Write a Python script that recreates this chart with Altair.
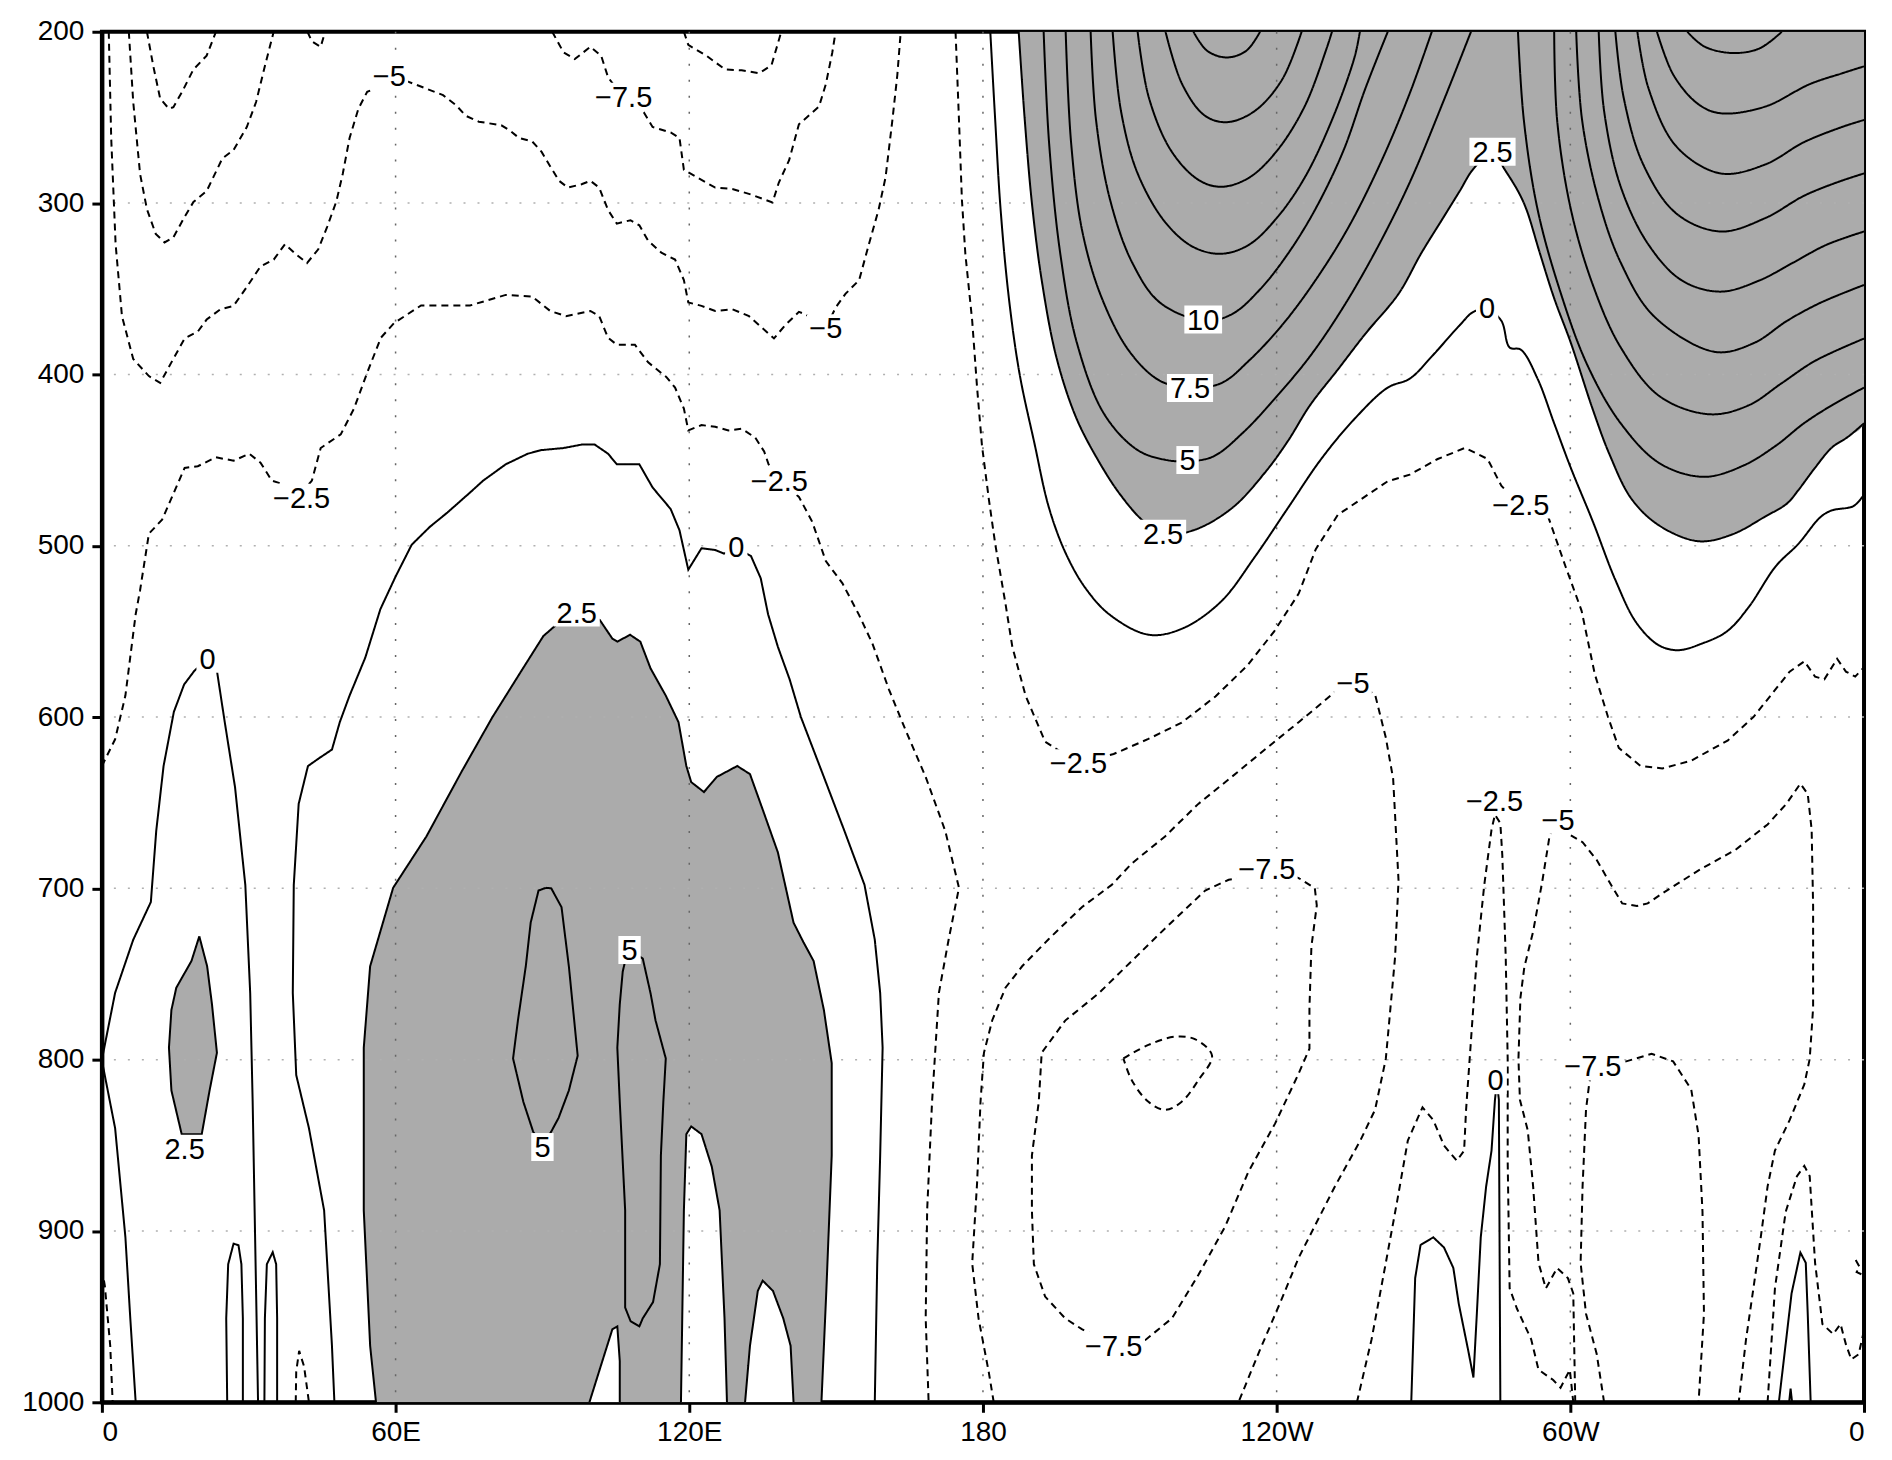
import altair as alt
import pandas as pd

# ---------------- axes ----------------
LON_TICKS = [0, 60, 120, 180, 240, 300, 360]
LON_TICK_LABELS = ["0", "60E", "120E", "180", "120W", "60W", "0"]
P_TICKS = [200, 300, 400, 500, 600, 700, 800, 900, 1000]
GRID_LON = [60, 120, 180, 240, 300]
GRID_P = [300, 400, 500, 600, 700, 800, 900]

# ---------------- contours (lon, pressure) ----------------
M5_A = [(1.4,200),(1.9,262),(2.8,324),(4.1,366),(6.4,391),(9.6,401),(11.9,405),(14.2,393),(16.9,379),(19.6,375),
        (21.4,368),(24.2,362),(26.9,360),(29.6,349),(32.4,337),(35.1,333),(37.4,324),(39.7,330),(41.9,335),(44.2,327),
        (46.0,314),(47.9,299),(49.2,283),(50.6,262),(52.4,245),(54.2,235),(55.1,234),(58.7,226),(62.4,229),(66.1,233),
        (69.7,237),(72.4,243),(74.3,249),(77.0,252.5),(81.6,254.6),(83.4,257.7),(85.2,262),(87.9,264),(89.8,270),
        (91.6,278.6),(93.4,287),(95.2,291),(98.0,289),(99.8,287),(101.6,291),(103.4,304),(105.2,312),(108.0,310),
        (109.8,313),(111.6,322),(114.3,329),(117.1,333),(118.9,345),(119.8,358),(122.5,360),(125.3,363),(128.8,362),
        (132.2,366),(137.3,379),(139.7,371),(142.4,363.5),(143.8,365),(147.9,373),(149.9,361),(151.9,353),(154.7,345),
        (156.7,324),(158.7,303.6),(160.1,285),(161.5,251.5),(162.5,225.4),(163.2,200)]
M75_L = [(5.5,200),(6.4,241),(7.8,283),(9.2,303.6),(11.0,318),(12.8,323),(14.6,320),(16.9,308),(18.7,299.4),
         (21.4,293),(24.6,274),(26.9,269),(29.6,255.6),(31.5,241),(33.3,220),(35.1,200)]
M10_L = [(9.2,200),(10.5,220),(11.9,239),(13.7,245),(14.6,244),(16.4,235),(18.7,222),(21.4,214),(23.3,200)]
M75_V = [(42.0,200),(42.9,205.6),(44.7,208.8),(45.6,200)]
M75_M = [(92.0,200),(94.3,212),(96.6,216),(99.8,208.8),(102.0,214),(103.4,226.5),(106.6,239),(110.7,247),
         (112.5,255.6),(116.2,258.8),(118,262),(118.9,280.6),(121.6,285),(125.3,291),(128.8,291.8),(132.6,295),
         (137,299.7),(138.3,288),(140.4,275),(142.4,254),(146.5,243.7),(147.9,230.6),(149.2,212.4),(149.9,200)]
M10_R = [(118.9,200),(119.8,207.7),(123.5,214),(127.3,222),(130.7,222.5),(134.3,224.2),(136.8,219.5),(138.8,200)]
M25_L = [(0,628.6),(2.7,613),(4.8,587.5),(6.9,540),(7.8,526),(9.6,493),(12.3,484.8),(16.9,454.6),(19.6,453.6),
         (23.3,448.4),(26.9,450.4),(30.1,446.3),(32.4,451.5),(34.7,462),(36.9,464),(40,472),(42.9,462),(44.7,443),
         (48.8,435),(51.5,420),(54.2,399),(57.0,378.6),(59.7,370),(65.2,359.8),(75.2,359.8),(82.5,353.6),(87.9,354.6),
         (91.6,363),(94.8,366),(99.8,363),(101.6,366),(103.4,378.6),(105.2,382.7),(108.9,382.7),(111.6,393),
         (115.3,401.5),(117.1,407.7),(118.9,420),(119.8,432.7),(122.5,429.6),(125.3,430.6),(128.0,432.7),(130.7,431.7),
         (133.5,437),(135.3,445),(136.2,452.5),(138.4,462),(142.4,471.5),(145.1,485.9),(147.9,509),(151.3,522),
         (154.7,540.5),(157.4,557),(160.8,584),(164.2,607.7),(168.3,635),(172.3,666.5),(175.1,699.7),(173,729.7),
         (171,761),(169.6,824.6),(168.6,887.8),(168.3,951),(168.9,1000)]
M25_BL = [(0,922),(0.6,932),(1.7,967),(2.2,1000)]
M25_ARCH = [(39.6,1000),(39.7,982),(40.3,970),(41.3,979),(42.3,1000)]
Z0_L = [(6.9,1000),(5.8,951),(4.8,903.6),(2.7,840),(0.1,802),(0,800),(2.7,761),(6.4,730),(10,708),(11.1,666.5),
        (12.6,628.6),(14.7,597),(16.8,581),(18.9,573),(21.6,566),(23.5,573),(25.1,603),(27.2,641),(29.3,698),
        (30.3,761.4),(30.8,824.5),(31.2,888),(31.6,951),(31.9,1000)]
Z0_LOOP1 = [(25.6,1000),(25.4,951),(25.8,919.4),(26.9,907.4),(27.9,908.3),(28.5,919.4),(28.8,951),(28.8,1000)]
Z0_LOOP2 = [(33.2,1000),(33.3,951),(33.7,919.4),(34.9,912.4),(35.6,919.4),(35.8,951),(35.8,1000)]
Z0_C = [(47.5,1000),(47,967),(45.4,888),(42.3,840),(39.7,809),(39,761),(39.2,698),(40.2,650.7),(42.1,628.6),
        (44.4,624),(47,619),(48.6,603),(50.6,587.5),(53.8,565.4),(56.9,537),(60,518),(63.3,499.4),(67,489),
        (70.6,480.6),(75.2,469),(77.9,462),(82.5,452.5),(87,446.3),(89.8,444.2),(94.3,443),(98,441),(100.7,441),
        (103.4,446.3),(105.2,452.5),(109.8,452.5),(112.5,466),(116.2,478.6),(118,491),(119.8,514),(122.5,501.5),
        (125.3,502.5),(127.1,504.6),(129.6,501.5),(132.6,506),(134.6,519),(136.1,540),(138.1,559),(140.5,578),
        (142.8,600),(147.5,635),(151.7,666.5),(155.8,698),(157.9,730),(159,761),(159.5,793),(159,856),(158.4,919),
        (157.9,1000)]
S25_C = [(56,1000),(54.8,967),(53.5,888),(53.5,793),(54.8,745.5),(59.5,699.7),(66.3,669.7),(73.5,631.8),(79.8,600),
         (86,571.7),(90.2,552.7),(93.3,545),(97,543),(101.7,543.3),(104.3,554.3),(105.3,556),(107.9,552),(110,556),
         (112.1,571.7),(115.2,587.5),(117.8,603),(119.4,628.6),(120.4,638),(123,643.8),(125.6,635),(129.8,628.6),
         (132.4,633.3),(135,654),(138.1,679),(141.3,720),(143.3,731.3),(145.4,742.4),(147.5,771),(149.1,802),
         (149.1,856),(148,935),(147,1000)]
H_A = [(99.6,1000),(102.2,976.3),(104.3,957.3),(105.3,955.7),(105.8,976),(105.8,1000)]
H_B = [(118.3,1000),(118.9,888),(119.4,843.5),(120.4,839),(122.5,843.5),(124.6,862.5),(126.2,888),(127.2,951),(127.7,1000)]
H_C = [(131.4,1000),(132.4,967),(134,935),(135,929),(137.1,935),(139.2,951),(140.7,967),(141.3,1000)]
S25_BLOB = [(19.9,728),(21.5,745.5),(22.5,768),(23.5,796),(22,818),(20.4,843.5),(16.3,843.5),(14.2,818),(13.7,793),
            (14.2,771),(15.2,758),(18.3,742.4),(19.9,728)]
S5_A = [(90.7,699.7),(91.8,700),(93.9,711),(95.4,745.5),(97.2,797.7),(95.4,818),(93.3,834),(91.8,842),(90,851),
        (88.1,842),(86.1,824.6),(84,799.3),(85,777),(86.6,745.5),(87.6,720),(89.2,701.3),(90.7,699.7)]
S5_B = [(107.8,736),(110.5,741),(112.1,761.4),(113.1,777),(115.2,799.3),(114.7,824.6),(114.2,856),(114,919.4),
        (112.6,941.5),(110.5,951),(109.8,955.7),(108,952.6),(106.9,944.7),(106.9,888),(105.8,824.6),(105.3,793),
        (105.8,767.7),(106.4,748.7),(106.9,742.4),(107.8,736)]
M25_C = [(174.4,200),(175.1,251.5),(175.7,298),(176.4,329.6),(177.8,368.7),(178.8,407.7),(179.8,441.6),(181.2,472.8),
         (182.5,498.9),(184.6,533.8),(186,559),(188.7,587.5),(192.7,614.4),(199.5,627),(206.7,621.6),(213.8,612.8),
         (220.6,603.3),(227.5,588),(234,570),(239.5,550),(244.5,528),(248,502),(252.5,482),(262.7,462.4),(267.2,458.5),
         (272.9,449.4),(278.5,442.9),(283.1,449.4),(285.9,465),(289.9,476.7),(295.5,483.3),(299,512),(302.3,538),
         (305,575),(307.7,600),(309.9,618),(314.3,628.5),(318.8,630),(324.7,625.5),(332.2,613.6),(337.4,600),
         (341.1,586.8),(344.8,573.5),(347.8,567.5),(350,576.4),(351.9,578),(354.5,566),(356.3,573.5),(358.2,576.4),
         (360,571)]
M5_C = [(182.2,1000),(181.2,982.6),(179.1,951),(177.8,919),(178.8,872),(179.5,824.6),(180.2,796),(181.9,777),
        (184.6,758),(188,745.5),(193.4,729.7),(200.2,711),(206.3,698),(210.4,685.5),(217.2,669.7),(224,650.7),
        (230.8,635),(237.6,619),(244.5,603),(248.2,594.3),(251.9,585.4),(255.6,580),(260.1,586.8),(262.3,612),
        (263.8,636),(264.9,695.4),(264.2,740),(262.3,799.6),(260.1,829.3),(257.1,847.2),(251.9,874),(248.2,894.8),
        (244.5,915.6),(241,940),(236.5,970),(232.2,1000)]
M75_C = [(240.5,690),(230.2,695),(225.4,701.3),(217.2,723.4),(210.4,742.4),(203.6,761.4),(196.8,777.2),(192,796),
         (191.4,824.6),(190,856),(190,888),(190.4,919.4),(192.7,938.3),(196.8,951),(200.2,957.3),(206.7,966.8),
         (213.2,963.6),(218.6,951),(224,925.7),(229.5,897.3),(234.2,865.6),(239.7,837.2),(244.4,808.7),(246.7,793.6),
         (246.7,770),(247.1,734),(248.2,710),(247.8,700),(244.5,694),(240.5,690)]
M10_C = [(208.7,799.3),(213.8,791.4),(219.3,786.6),(223.4,788.2),(226.8,797.7),(224,812),(220.6,824.6),(217.2,829.3),
         (213.8,824.6),(210.4,812),(208.7,799.3)]
M25_R = [(256.4,1000),(259.4,963.2),(262.3,918.6),(264.6,882.9),(266.8,847.2),(269.8,827.8),(272,835.3),(274.2,850.2),
         (276.8,859),(278.3,853.1),(278.7,829.3),(279.8,784.7),(280.9,740),(282.4,698.4),(283.9,665.7),(284.6,657),
         (285.7,662),(286.1,680.6),(286.8,740),(287.2,799.6),(287.2,859),(287.6,933.5),(289.1,945.4),(292,963.2),
         (293.5,981),(296.5,987),(298,991.5),(299.9,981),(300.6,1000)]
M5_R = [(301,1000),(300.6,936.4),(299.5,927.5),(297.3,921.6),(295,933.5),(293.5,918.6),(292.4,874),(291.3,841.2),
        (289.7,823.4),(289.4,799.6),(289.8,764),(290.6,746),(292.4,725.2),(294.3,695.4),(295.8,668.7),(297.6,660),
        (299.9,668.7),(302.5,673.1),(305.4,683.5),(308.4,698.4),(310.6,708.8),(313.6,710.3),(315.8,708.8),(318.8,702.9),
        (326.2,689.5),(333.7,677.6),(340.3,662.7),(344.1,650.8),(347,638.9),(348.5,644.9),(349.3,665.7),(349.6,710.3),
        (349.6,769.8),(348.9,799.6),(347.8,814.5),(344.8,835.3),(341.8,853.1),(340.3,874),(338.9,903.7),(337.4,933.5),
        (335.9,963.2),(334.4,1000)]
M75_R = [(306.9,1000),(305.4,972),(303.2,948.3),(302.1,918.6),(302.5,874),(303.2,829.3),(303.9,813),(304.6,804),
         (311.4,801),(316.6,796.6),(321,801),(324.7,817.4),(326.2,844.2),(327,888.8),(327.3,948.3),(326.2,1000)]
M25_RE = [(340.3,1000),(341.8,933.5),(344,888.8),(346.3,868),(347.8,862),(348.9,868),(350,918.6),(351.5,954.3),
          (353.7,960.2),(355.2,954.3),(356.3,966.2),(357.4,975),(358.9,972),(360,958)]
M25_SQ = [(358.3,917),(359.1,921),(358.5,924),(360,926)]
Z0_HUMP = [(267.5,1000),(268.3,927.5),(269.4,908.2),(272,903.7),(274.2,909.7),(276.1,921.6),(277.2,942.4),
           (279.1,969.2),(280.2,985.5),(280.9,948.3),(281.7,903.7),(282.8,874),(283.9,853.1),(284.6,823.4),
           (285,813),(285.4,823.4),(285.7,1000)]
Z0_SPIKE = [(342.6,1000),(345.2,936.4),(347,912.6),(348.1,918.6),(348.5,948.3),(349.1,1000)]
Z0_TINY = [(344.7,1000),(345,992),(345.3,1000)]
Z0_TOP = [(181.5,200),(182.5,251.5),(183.6,303.6),(185.3,355.6),(187.5,400),(190.5,440),(193.5,478),(197,505),
          (201,525),(206,540.5),(213.9,552),(220.7,548.4),(228.6,532.7),(235.5,506.7),(242.3,478),(249.1,449.4),
          (255.9,426),(262.7,407.7),(267.2,402.5),(271.7,389.5),(277.4,371.3),(280.2,363.5),(283,362),(285.9,368.7),
          (287.6,384.3),(289.9,385.6),(293.3,402.5),(296.7,428.6),(300.1,454.6),(304.6,485.9),(309.2,520),
          (313.5,545),(318,558),(322,561),(327,557),(332,550),(336.4,536),(342,511.9),(346.6,498.9),(351.1,483.3),
          (353.4,479.4),(357.9,476.8),(360,470)]
S25_TOP = [(187.3,200),(188.5,250),(190,300),(192,345),(195,390),(199,425),(203.5,450),(208,470),(212.8,485.7),
           (217,493),(223,491),(230.9,478),(237.7,457),(242.3,438.9),(246.8,418.1),(252.5,397.2),(258.1,376.4),
           (264.9,353),(269.5,329.5),(274,308.7),(277.4,293),(280.2,280),(284.2,270),(286.5,280),(289.3,293),
           (291,303.5),(293.8,329.5),(296.7,355.6),(300.1,381.6),(304.6,420.6),(308,446.7),(312.5,472.7),
           (318.2,488.3),(326.2,497.4),(333,493.5),(339.8,483),(344.3,475.3),(346.6,467.5),(350,454.5),
           (353.4,442.8),(356.8,436.3),(360,428.5)]
TOP_RIGHT_CORNER = [(360, 200)]
LU5 = [(192.4,200),(193.5,264.5),(195.8,329.6),(199.2,381.7),(204.8,423.3),(211.6,444.2),(217.3,449.9),(221.9,450.7),
       (227,448),(233.2,433.8),(240,412.9),(246.8,389.5),(253.6,360.8),(260.4,327),(267.2,287.9),(274,241.1),(279.7,200)]
LU75 = [(196.9,200),(198,264.5),(200.3,316.6),(204.3,355.6),(210,386.9),(216.2,403.8),(222.4,407.7),(228.7,405.1),
        (234.3,392.1),(241.1,371.3),(247.9,345.2),(254.7,314),(261.5,274.9),(267.2,235.9),(271.7,200)]
LU10 = [(202,200),(203.1,251.5),(206,298.4),(210.5,334.8),(216.2,358.2),(225.3,368.7),(230.9,364.8),(236.6,350.4),
        (242.3,329.6),(247.9,303.6),(253.6,269.7),(258.1,233.3),(262.7,200)]
LU125 = [(206.5,200),(208.2,246.3),(211.6,282.7),(217.3,311.4),(223,325.7),(228.7,329.6),(234.3,324.4),(240,308.8),
         (245.7,285.3),(251.3,251.5),(255.9,215),(257,200)]
LU15 = [(211.6,200),(213.9,238.5),(218.5,269.7),(224.1,286.6),(228.7,290.5),(234.3,285.3),(240,269.7),(245.7,243.7),
        (250.2,209.8),(251.3,200)]
LU175 = [(217.3,200),(220.7,230.6),(225.3,248.9),(229.8,252.8),(235.5,246.3),(241.1,228),(245.1,200)]
LU20 = [(223,200),(225.8,211.1),(229.8,215),(233.8,211.1),(236.6,200)]
RU5 = [(289.3,200),(290.5,251.5),(293.3,303.6),(297.8,350.4),(303.5,394.7),(310.3,428.6),(318.3,452),(327.3,459.8),
       (335.3,453.3),(342,441.6),(347.7,428.6),(353.4,418.1),(360,407.7)]
RU75 = [(296.7,200),(297.3,251.5),(300.1,303.6),(304.6,347.8),(310.3,384.3),(318.3,412.9),(328.5,423.3),(336.4,418.1),
        (343.2,405.1),(350,392.1),(360,379.1)]
RU10 = [(301.2,200),(302.4,251.5),(305.8,298.4),(310.3,334.8),(317.1,366.1),(329.6,386.9),(337.5,381.7),(344.3,368.7),
        (351.1,358.2),(360,347.8)]
RU125 = [(305.8,200),(306.9,246.3),(310.3,290.5),(316,324.4),(322.8,345.2),(330.7,351.7),(338.6,345.2),(345.5,334.8),
         (352.3,324.4),(360,316.6)]
RU15 = [(309.2,200),(310.9,238.5),(314.9,277.5),(321.7,306.2),(330.7,316.6),(339.8,308.8),(347.7,295.8),(354.5,287.9),
        (360,282.7)]
RU175 = [(313.7,200),(316,233.3),(321.7,267.1),(330.7,282.7),(339.8,277.5),(347.7,264.5),(355.7,255.4),(360,251.5)]
RU20 = [(317.7,200),(321.1,225.4),(326.2,242.4),(330.7,247.6),(339.8,243.7),(348.9,230.6),(355.7,224.1),(360,220.2)]
RU225 = [(323.9,200),(327.3,208.5),(333,212.4),(338.6,209.8),(343.2,200)]

# (name, contour value, points, smooth?)
CONTOURS = [
    ("m5_a", -5, M5_A, False), ("m75_l", -7.5, M75_L, False), ("m10_l", -10, M10_L, False),
    ("m75_v", -7.5, M75_V, False), ("m75_m", -7.5, M75_M, False), ("m10_r", -10, M10_R, False),
    ("m25_l", -2.5, M25_L, False), ("m25_bl", -2.5, M25_BL, False), ("m25_arch", -2.5, M25_ARCH, False),
    ("z0_l", 0, Z0_L, False), ("z0_loop1", 0, Z0_LOOP1, False), ("z0_loop2", 0, Z0_LOOP2, False),
    ("z0_c", 0, Z0_C, False), ("s25_c", 2.5, S25_C, False), ("h_a", 2.5, H_A, False), ("h_b", 2.5, H_B, False),
    ("h_c", 2.5, H_C, False), ("s25_blob", 2.5, S25_BLOB, False), ("s5_a", 5, S5_A, False), ("s5_b", 5, S5_B, False),
    ("m25_c", -2.5, M25_C, False), ("m5_c", -5, M5_C, False), ("m75_c", -7.5, M75_C, False),
    ("m10_c", -10, M10_C, True), ("m25_r", -2.5, M25_R, False), ("m5_r", -5, M5_R, False),
    ("m75_r", -7.5, M75_R, False), ("m25_re", -2.5, M25_RE, False), ("m25_sq", -2.5, M25_SQ, False),
    ("z0_hump", 0, Z0_HUMP, False), ("z0_spike", 0, Z0_SPIKE, False), ("z0_tiny", 0, Z0_TINY, False),
    ("z0_top", 0, Z0_TOP, True), ("s25_top", 2.5, S25_TOP, True), ("lu5", 5, LU5, True), ("lu75", 7.5, LU75, True),
    ("lu10", 10, LU10, True), ("lu125", 12.5, LU125, True), ("lu15", 15, LU15, True), ("lu175", 17.5, LU175, True),
    ("lu20", 20, LU20, True), ("ru5", 5, RU5, True), ("ru75", 7.5, RU75, True), ("ru10", 10, RU10, True),
    ("ru125", 12.5, RU125, True), ("ru15", 15, RU15, True), ("ru175", 17.5, RU175, True), ("ru20", 20, RU20, True),
    ("ru225", 22.5, RU225, True),
]

# (name, fill kind, points, smooth?)
SHADED = [("f_top", "shade", S25_TOP + TOP_RIGHT_CORNER, True), ("f_c", "shade", S25_C, False),
          ("f_blob", "shade", S25_BLOB, False), ("f_ha", "clear", H_A, False), ("f_hb", "clear", H_B, False),
          ("f_hc", "clear", H_C, False)]

LABEL_TEXT = ["−5", "−7.5", "−5", "−2.5", "−2.5", "0", "0", "2.5", "2.5", "5", "5", "−2.5", "2.5", "5", "7.5",
              "10", "2.5", "0", "−2.5", "−5", "−7.5", "−7.5", "−2.5", "−5", "0", "−7.5"]
LABEL_LON = [58.7, 106.6, 147.9, 40.8, 138.4, 129.6, 21.6, 97.0, 16.9, 90.0, 107.8, 199.5, 216.8, 221.8, 222.3,
             225.0, 284.1, 283.0, 289.9, 255.6, 238.0, 206.7, 284.5, 297.5, 284.7, 304.6]
LABEL_P = [226, 238, 373, 472, 462, 501, 566, 539, 852, 851, 736, 627, 493, 450, 408,
           368, 270, 361, 476, 580, 689, 967, 649, 660, 812, 804]

# ---------------- tables ----------------
line_rows = []
for name, val, pts, smooth in CONTOURS:
    for i, (lo, pr) in enumerate(pts):
        line_rows.append({"id": name, "style": "dashed" if val < 0 else "solid", "smooth": smooth,
                          "i": i, "lon": lo, "p": pr})
lines_df = pd.DataFrame(line_rows)

fill_rows = []
for name, kind, pts, smooth in SHADED:
    for i, (lo, pr) in enumerate(pts):
        fill_rows.append({"id": name, "kind": kind, "smooth": smooth, "i": i, "lon": lo, "p": pr})
fills_df = pd.DataFrame(fill_rows)

labels_df = pd.DataFrame({"text": LABEL_TEXT, "lon": LABEL_LON, "p": LABEL_P})
vgrid_df = pd.DataFrame({"lon": GRID_LON})
hgrid_df = pd.DataFrame({"p": GRID_P})

# ---------------- encodings ----------------
label_expr = "''"
for v, l in reversed(list(zip(LON_TICKS, LON_TICK_LABELS))):
    label_expr = f"datum.value == {v} ? '{l}' : ({label_expr})"

axis_style = dict(domainColor="black", domainWidth=4, tickColor="black", tickWidth=3, tickSize=10,
                  labelFont="Liberation Sans", labelFontSize=28, labelColor="black", grid=False, title=None)

X = alt.X("lon:Q", scale=alt.Scale(domain=[0, 360], nice=False, zero=False),
          axis=alt.Axis(values=LON_TICKS, labelExpr=label_expr, labelPadding=6, **axis_style))
Y = alt.Y("p:Q", scale=alt.Scale(domain=[200, 1000], nice=False, zero=False, reverse=True),
          axis=alt.Axis(values=P_TICKS, format="d", labelPadding=8, **axis_style))
FILL = alt.Fill("kind:N", scale=alt.Scale(domain=["shade", "clear"], range=["#ababab", "#ffffff"]), legend=None)
DASH = alt.StrokeDash("style:N", scale=alt.Scale(domain=["solid", "dashed"], range=[[1, 0], [7, 5]]), legend=None)

fill_base = alt.Chart(fills_df)
fills_lin = fill_base.transform_filter("!datum.smooth").mark_line(
    strokeOpacity=0, interpolate="linear", clip=True).encode(x=X, y=Y, detail="id:N", order="i:Q", fill=FILL)
fills_smooth = fill_base.transform_filter("datum.smooth").mark_line(
    strokeOpacity=0, interpolate="catmull-rom", clip=True).encode(x=X, y=Y, detail="id:N", order="i:Q", fill=FILL)

vgrid = alt.Chart(vgrid_df).mark_rule(color="#666666", strokeWidth=1.5, strokeDash=[2, 14]).encode(x=X)
hgrid = alt.Chart(hgrid_df).mark_rule(color="#b0b0b0", strokeWidth=1.5, strokeDash=[2, 12]).encode(y=Y)

line_base = alt.Chart(lines_df)
lines_lin = line_base.transform_filter("!datum.smooth").mark_line(
    color="black", strokeWidth=2, interpolate="linear", clip=True).encode(
    x=X, y=Y, detail="id:N", order="i:Q", strokeDash=DASH)
lines_smooth = line_base.transform_filter("datum.smooth").mark_line(
    color="black", strokeWidth=2, interpolate="catmull-rom", clip=True).encode(
    x=X, y=Y, detail="id:N", order="i:Q", strokeDash=DASH)

box_paths = ["M-0.8,-1L0.8,-1L0.8,1L-0.8,1Z", "M-1.35,-1L1.35,-1L1.35,1L-1.35,1Z",
             "M-1.65,-1L1.65,-1L1.65,1L-1.65,1Z", "M-2.2,-1L2.2,-1L2.2,1L-2.2,1Z"]
boxes = alt.Chart(labels_df).transform_calculate(nchar="length(datum.text)").mark_point(
    filled=True, fill="white", opacity=1, strokeOpacity=0, size=784).encode(
    x=X, y=Y,
    shape=alt.Shape("nchar:O", scale=alt.Scale(domain=[1, 2, 3, 4], range=box_paths), legend=None),
)
texts = alt.Chart(labels_df).mark_text(font="Liberation Sans", fontSize=29, color="black",
                                       baseline="middle", align="center", dy=1).encode(
    x=X, y=Y, text="text:N")

chart = alt.layer(fills_lin, fills_smooth, vgrid, hgrid, lines_lin, lines_smooth, boxes, texts).properties(
    width=1764, height=1372,
    autosize=alt.AutoSizeParams(type="none"),
    padding={"left": 94, "top": 23, "right": 20, "bottom": 50},
).configure_view(stroke="black", strokeWidth=4)

chart.save("out.html", embed_options={"renderer": "svg", "actions": False})
